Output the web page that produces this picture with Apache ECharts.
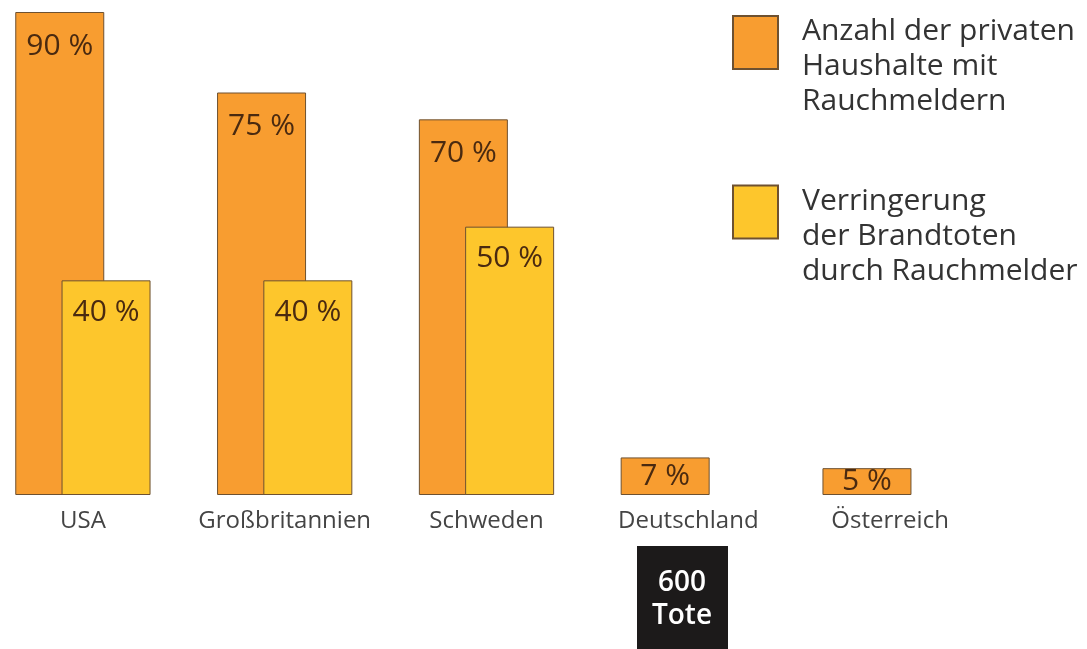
<!DOCTYPE html>
<html>
<head>
<meta charset="utf-8">
<script src="https://cdn.jsdelivr.net/npm/echarts@6/dist/echarts.min.js"></script>
<style>
  html, body { margin: 0; background: #fff; }
  #chart { width: 1087px; height: 649px; }
</style>
</head>
<body>
<div id="chart"></div>
<script>
const countries = ['USA', 'Großbritannien', 'Schweden', 'Deutschland', 'Österreich'];
const households = [90, 75, 70, 7, 5];
const reduction = [40, 40, 50, null, null];
const seriesNames = [
  'Anzahl der privaten\nHaushalte mit\nRauchmeldern',
  'Verringerung\nder Brandtoten\ndurch Rauchmelder'
];
const deathsNote = ['600', 'Tote'];

const FONT = '"Open Sans", sans-serif';
const BORDER = '#6e5130';
const LABEL_COLOR = '#4a2a10';

// small bars get their label in the middle, tall ones near the top
function toData(values) {
  return values.map(v => v == null ? null : {
    value: v,
    label: v < 20 ? { position: 'inside', distance: 0 } : {}
  });
}

const chart = echarts.init(document.getElementById('chart'));

chart.setOption({
  backgroundColor: '#fff',
  animation: false,
  textStyle: { fontFamily: FONT },
  grid: { left: -18, top: 12, width: 1009, bottom: 154, outerBoundsMode: 'none', containLabel: false },
  legend: {
    orient: 'vertical',
    left: 732,
    top: -15,
    padding: 0,
    icon: 'rect',
    itemWidth: 45,
    itemHeight: 53,
    itemGap: 38,
    selectedMode: false,
    data: seriesNames,
    // push the text block down so the box sits next to the first line
    formatter: name => '{gap| }\n' + name.split('\n').map(s => '{t|' + s + '}').join('\n'),
    textStyle: {
      fontFamily: FONT,
      color: '#333',
      rich: {
        gap: { fontSize: 10, lineHeight: 48 },
        t: { fontFamily: FONT, fontSize: 30, lineHeight: 35, color: '#333', padding: [0, 0, 0, 19] }
      }
    }
  },
  xAxis: {
    type: 'category',
    data: countries,
    axisLine: { show: false },
    axisTick: { show: false },
    axisLabel: { interval: 0, margin: 14, fontSize: 24, color: '#444', fontFamily: FONT }
  },
  yAxis: {
    type: 'value',
    min: 0,
    max: 90,
    show: false,
    splitLine: { show: false }
  },
  series: [
    {
      name: seriesNames[0],
      type: 'bar',
      barWidth: 89,
      barGap: '-48%',
      data: toData(households),
      itemStyle: { color: '#f89d30', borderColor: BORDER, borderWidth: 1 },
      label: {
        show: true,
        position: 'insideTop',
        distance: 19,
        fontSize: 30,
        color: LABEL_COLOR,
        fontFamily: FONT,
        formatter: p => p.value + ' %'
      }
    },
    {
      name: seriesNames[1],
      type: 'bar',
      barWidth: 89,
      data: toData(reduction),
      itemStyle: { color: '#fdc62c', borderColor: BORDER, borderWidth: 1 },
      label: {
        show: true,
        position: 'insideTop',
        distance: 17,
        fontSize: 30,
        color: LABEL_COLOR,
        fontFamily: FONT,
        formatter: p => p.value + ' %'
      }
    }
  ],
  graphic: [
    {
      type: 'group',
      left: 637,
      top: 546,
      children: [
        { type: 'rect', shape: { x: 0, y: 0, width: 91, height: 103 }, style: { fill: '#1c1a1a' } },
        {
          type: 'text',
          x: 45,
          y: 54,
          style: {
            text: deathsNote.join('\n'),
            fill: '#fff',
            font: '600 28px "Open Sans", sans-serif',
            lineHeight: 33,
            align: 'center',
            verticalAlign: 'middle'
          }
        }
      ]
    }
  ]
});
</script>
</body>
</html>
